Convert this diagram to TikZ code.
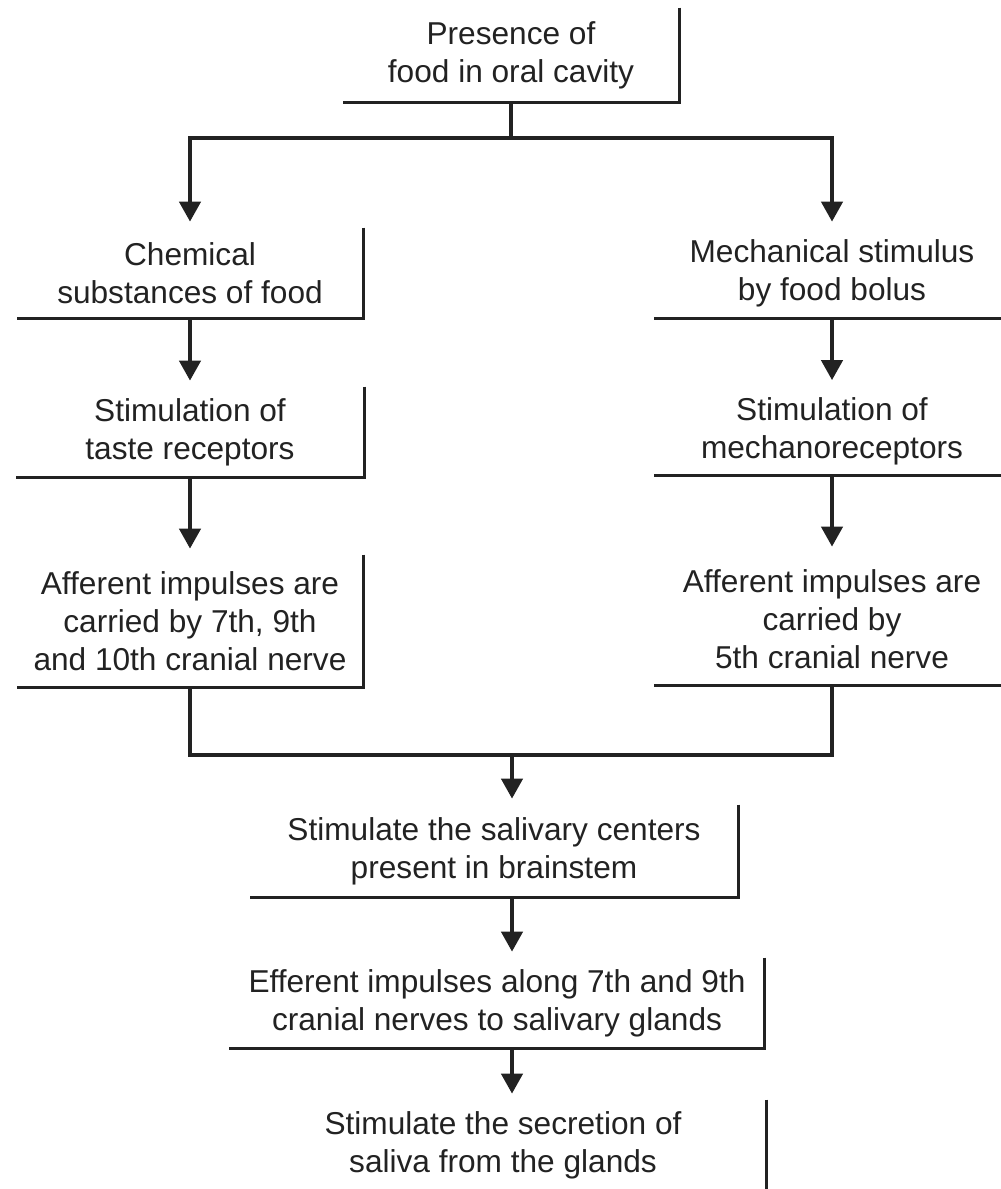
\documentclass[tikz,border=0pt]{standalone}
\usepackage{fontspec}
\setmainfont{Liberation Sans}
\usepackage{tikz}
\usetikzlibrary{arrows.meta}
\definecolor{ink}{HTML}{222222}

\begin{document}
\begin{tikzpicture}[x=0.02cm, y=-0.02cm,
    stepbox/.style={inner sep=0pt, align=center, text=ink, font=\fontsize{18pt}{21.5pt}\selectfont},
    frame/.style={draw=ink, line width=1.6pt},
    flow/.style={draw=ink, line width=2.4pt, -{Triangle[width=0.42cm,length=0.4cm]}, shorten >=0.12cm}]
  \useasboundingbox (0,0) rectangle (1000,1189);

  \node[stepbox, minimum width=6.72cm, minimum height=1.88cm] (food) at (511,55) {Presence of\\food in oral cavity};

  \node[stepbox, minimum width=6.92cm, minimum height=1.8cm] (chem) at (190,273) {Chemical\\substances of food};
  \node[stepbox, minimum width=6.96cm, minimum height=1.8cm] (taste) at (190,432) {Stimulation of\\taste receptors};
  \node[stepbox, minimum width=6.92cm, minimum height=2.64cm] (aff7) at (190,621) {Afferent impulses are\\carried by 7th, 9th\\and 10th cranial nerve};

  \node[stepbox, minimum width=7.1cm, minimum height=1.8cm] (mech) at (832,273) {Mechanical stimulus\\by food bolus};
  \node[stepbox, minimum width=7.1cm, minimum height=1.78cm] (mechano) at (832,431) {Stimulation of\\mechanoreceptors};
  \node[stepbox, minimum width=7.1cm, minimum height=2.64cm] (aff5) at (832,619) {Afferent impulses are\\carried by\\5th cranial nerve};

  \node[stepbox, minimum width=9.76cm, minimum height=1.84cm] (centers) at (494,851) {Stimulate the salivary centers\\present in brainstem};
  \node[stepbox, minimum width=10.7cm, minimum height=1.8cm] (efferent) at (497,1003) {Efferent impulses along 7th and 9th\\cranial nerves to salivary glands};
  \node[stepbox, minimum width=10.54cm, minimum height=1.8cm] (secretion) at (503,1145) {Stimulate the secretion of\\saliva from the glands};

  \foreach \n in {food,chem,taste,aff7,mech,mechano,aff5,centers,efferent,secretion}
    \draw[frame] (\n.north east) -- (\n.south east) -- (\n.south west);

  \coordinate (split) at (511,138);
  \coordinate (merge) at (512,755);

  \draw[draw=ink, line width=2.4pt] (food.south) -- (split);
  \draw[flow] (split) -| (chem.north);
  \draw[flow] (split) -| (mech.north);

  \draw[flow] (chem.south) -- (taste.north);
  \draw[flow] (taste.south) -- (aff7.north);
  \draw[flow] (mech.south) -- (mechano.north);
  \draw[flow] (mechano.south) -- (aff5.north);

  \draw[draw=ink, line width=2.4pt] (aff7.south) |- (merge) -| (aff5.south);
  \draw[flow] (merge) -- (merge |- centers.north);
  \draw[flow] (merge |- centers.south) -- (merge |- efferent.north);
  \draw[flow] (merge |- efferent.south) -- (merge |- secretion.north);
\end{tikzpicture}
\end{document}
